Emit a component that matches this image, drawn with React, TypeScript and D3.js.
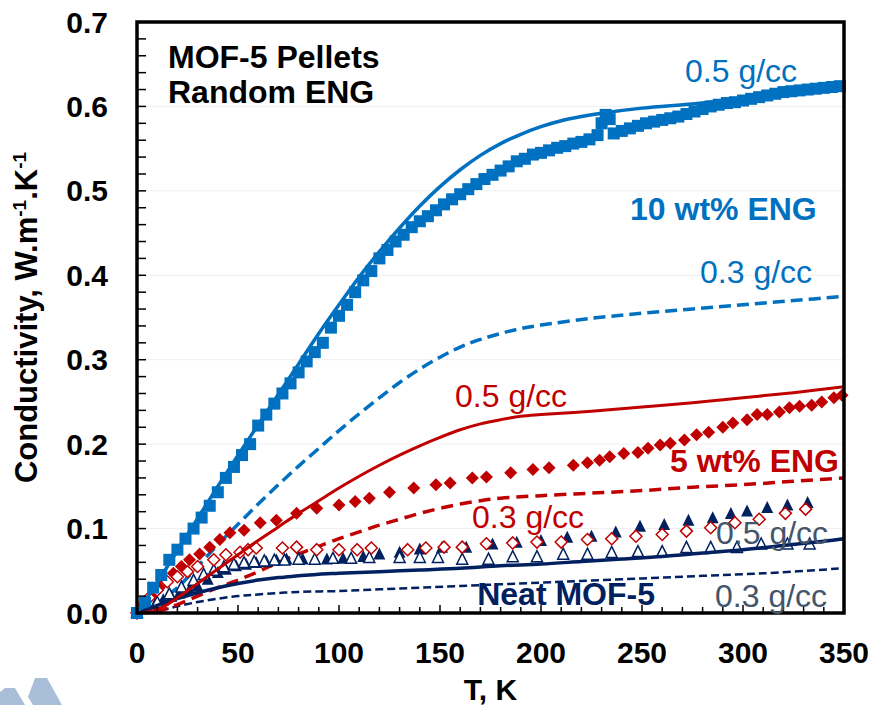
import React from "react";
import * as d3 from "d3";

// ---------- data ----------
// 10 wt% ENG, 0.5 g/cc measured (squares)
const sqT = [0,4,8,12,16,20,24,28,32,36,40,44,48,52,56,60,64,68,72,76,80,84,88,92,96,100,104,108,112,116,120,124,128,132,136,140,144,148,152,156,160,164,168,172,176,180,184,188,192,196,200,204,208,212,216,220,224,228,230,232,234,236,240,244,248,252,256,260,264,268,272,276,280,284,288,292,296,300,304,308,312,316,320,324,328,332,336,340,344,348];
const sqV = [0,0.012,0.03,0.045,0.063,0.075,0.088,0.1,0.113,0.127,0.143,0.16,0.173,0.187,0.2,0.222,0.235,0.248,0.26,0.272,0.285,0.298,0.309,0.32,0.338,0.352,0.365,0.38,0.394,0.405,0.42,0.43,0.44,0.448,0.457,0.464,0.47,0.477,0.484,0.49,0.496,0.502,0.508,0.514,0.519,0.524,0.529,0.535,0.538,0.543,0.545,0.548,0.551,0.553,0.556,0.558,0.561,0.566,0.58,0.59,0.585,0.568,0.571,0.574,0.577,0.58,0.582,0.584,0.586,0.588,0.591,0.594,0.597,0.6,0.602,0.604,0.605,0.607,0.609,0.611,0.613,0.615,0.617,0.618,0.619,0.62,0.621,0.622,0.623,0.624];

// 5 wt% ENG measured (filled diamonds)
const fdT = [0,3,7,11,14,18,22,26,31,36,41,46,53,61,69,79,89,100,108,115,125,137,148,155,166,173,185,196,204,216,223,229,234,241,248,253,259,264,271,277,283,290,295,302,307,312,318,323,328,334,339,345,349];
const fdV = [0,0.01,0.02,0.03,0.038,0.047,0.055,0.063,0.07,0.078,0.087,0.095,0.098,0.107,0.11,0.118,0.124,0.128,0.132,0.136,0.143,0.148,0.152,0.154,0.16,0.161,0.166,0.17,0.172,0.175,0.178,0.181,0.185,0.189,0.19,0.195,0.199,0.201,0.205,0.211,0.214,0.22,0.225,0.229,0.235,0.235,0.238,0.243,0.245,0.246,0.25,0.255,0.258];

// 5 wt% ENG measured (open diamonds)
const odT = [0,6,10,15,20,25,30,38,44,51,55,59,72,79,89,100,109,116,134,143,152,161,173,186,198,210,223,235,247,260,272,284,296,308,321,331];
const odV = [0,0.018,0.027,0.037,0.043,0.049,0.055,0.063,0.069,0.072,0.075,0.077,0.077,0.078,0.075,0.075,0.075,0.077,0.075,0.077,0.078,0.078,0.082,0.083,0.084,0.084,0.087,0.088,0.091,0.093,0.097,0.101,0.107,0.111,0.118,0.123];

// Neat MOF-5 measured (filled triangles)
const ftT = [0,5,9,13,17,21,26,30,35,40,44,49,54,59,64,69,74,82,94,102,112,120,130,140,151,163,176,188,200,213,225,237,249,261,273,285,294,302,312,322,332];
const ftV = [0,0.006,0.01,0.015,0.019,0.023,0.027,0.031,0.039,0.047,0.051,0.055,0.057,0.059,0.06,0.062,0.063,0.063,0.063,0.064,0.066,0.069,0.071,0.075,0.077,0.077,0.081,0.083,0.085,0.089,0.09,0.095,0.102,0.104,0.109,0.112,0.117,0.12,0.124,0.127,0.13];

// Neat MOF-5 measured (open triangles)
const otT = [0,5,10,16,22,28,33,38,43,48,53,58,63,68,73,80,88,97,106,115,130,140,149,161,174,186,198,211,223,235,248,260,272,284,297,309,322,333];
const otV = [0,0.005,0.012,0.022,0.03,0.038,0.045,0.05,0.054,0.057,0.059,0.06,0.061,0.062,0.062,0.063,0.063,0.064,0.064,0.065,0.065,0.065,0.065,0.063,0.063,0.066,0.066,0.069,0.069,0.071,0.072,0.072,0.077,0.077,0.077,0.081,0.081,0.081];

// model curves
const mBlue5T = [0,10,20,30,40,50,60,70,80,90,100,110,120,130,140,150,160,170,180,190,200,210,220,230,250,275,300,325,350];
const mBlue5V = [0,0.036,0.074,0.112,0.15,0.187,0.223,0.259,0.295,0.331,0.365,0.398,0.428,0.456,0.482,0.505,0.525,0.542,0.556,0.567,0.576,0.583,0.588,0.592,0.598,0.603,0.609,0.616,0.625];
const mBlue3T = [0,10,20,30,40,50,60,70,80,90,100,110,120,130,140,150,160,170,180,190,200,225,250,275,300,325,350];
const mBlue3V = [0,0.012,0.03,0.055,0.081,0.105,0.129,0.152,0.174,0.195,0.216,0.236,0.255,0.273,0.289,0.303,0.315,0.324,0.331,0.337,0.341,0.349,0.355,0.36,0.365,0.37,0.375];
const mRed5T = [0,10,20,30,40,50,60,70,80,90,100,110,120,130,140,150,160,170,180,190,200,225,250,275,300,325,350];
const mRed5V = [0,0.004,0.018,0.035,0.052,0.069,0.086,0.102,0.118,0.133,0.148,0.162,0.175,0.187,0.198,0.208,0.217,0.224,0.229,0.233,0.235,0.239,0.244,0.249,0.255,0.261,0.268];
const mRed3T = [0,10,20,30,40,50,60,70,80,90,100,110,120,130,140,150,160,170,180,200,225,250,275,300,325,350];
const mRed3V = [0,0.002,0.01,0.02,0.03,0.039,0.049,0.06,0.07,0.079,0.088,0.096,0.104,0.111,0.118,0.124,0.129,0.133,0.136,0.139,0.142,0.145,0.149,0.152,0.156,0.16];
const mNeat5T = [0,5,10,20,30,40,50,60,70,80,90,100,120,140,160,180,200,220,240,260,280,300,320,340,350];
const mNeat5V = [0,0.004,0.009,0.017,0.024,0.03,0.035,0.039,0.042,0.044,0.046,0.047,0.049,0.051,0.053,0.056,0.058,0.061,0.064,0.067,0.071,0.075,0.08,0.085,0.088];
const mNeat3T = [0,10,20,30,40,50,60,80,100,120,140,160,180,200,220,250,280,310,350];
const mNeat3V = [0,0.002,0.008,0.013,0.017,0.02,0.022,0.025,0.026,0.028,0.03,0.032,0.034,0.036,0.038,0.041,0.044,0.047,0.053];

const xTicks = [0, 50, 100, 150, 200, 250, 300, 350];
const yTicks = [0, 0.1, 0.2, 0.3, 0.4, 0.5, 0.6, 0.7];

const BLUE = "#0070C0";
const RED = "#C00000";
const NAVY = "#002060";
const SLATE = "#44546A";
const FONT = "'Liberation Sans', Arial, sans-serif";

const zip = (t: number[], v: number[]) => t.map((d, i) => [d, v[i]] as [number, number]);

export default function App() {
  const W = 873, H = 705;
  const x = d3.scaleLinear().domain([0, 350]).range([137, 844]);
  const y = d3.scaleLinear().domain([0, 0.7]).range([613, 22]);
  const line = d3.line<[number, number]>().x(d => x(d[0])).y(d => y(d[1])).curve(d3.curveCatmullRom.alpha(0.5));

  const minorY = d3.range(0, 0.7001, 0.02);
  const minorX = d3.range(0, 351, 10);

  const diamond = (cx: number, cy: number, r: number) => `M${cx},${cy - r}L${cx + r},${cy}L${cx},${cy + r}L${cx - r},${cy}Z`;
  const tri = (cx: number, cy: number, s: number) => `M${cx},${cy - s * 0.6}L${cx + s / 2},${cy + s * 0.4}L${cx - s / 2},${cy + s * 0.4}Z`;

  return (
    <svg width={W} height={H} style={{ position: "absolute", left: 0, top: 0, background: "#fff" }} fontFamily={FONT}>
      <rect x={0} y={0} width={W} height={H} fill="#fff" />
      {/* logo fragment */}
      <polygon points="0,692 5,688 15,688 25,705 0,705" fill="#A9BFD9" />
      <polygon points="28,697 35,678 47,678 62,705 33,705" fill="#A9BFD9" />

      {/* gridlines */}
      {yTicks.slice(1, -1).map(t => (
        <line key={"g" + t} x1={x(0)} x2={x(350)} y1={y(t)} y2={y(t)} stroke="#EFEFEF" strokeWidth={1} />
      ))}

      {/* model lines */}
      <path d={line(zip(mNeat3T, mNeat3V))!} fill="none" stroke={NAVY} strokeWidth={2.5} strokeDasharray="8,4" />
      <path d={line(zip(mRed3T, mRed3V))!} fill="none" stroke={RED} strokeWidth={3.5} strokeDasharray="12,7" />
      <path d={line(zip(mBlue3T, mBlue3V))!} fill="none" stroke={BLUE} strokeWidth={3.5} strokeDasharray="12,6" />

      {/* markers */}
      {zip(ftT, ftV).map((d, i) => (
        <path key={"ft" + i} d={tri(x(d[0]), y(d[1]), 12)} fill={NAVY} />
      ))}
      {zip(otT, otV).map((d, i) => (
        <path key={"ot" + i} d={tri(x(d[0]), y(d[1]), 11)} fill="#fff" stroke={NAVY} strokeWidth={1.5} />
      ))}
      {zip(fdT, fdV).map((d, i) => (
        <path key={"fd" + i} d={diamond(x(d[0]), y(d[1]), 6.5)} fill={RED} />
      ))}
      {zip(odT, odV).map((d, i) => (
        <path key={"od" + i} d={diamond(x(d[0]), y(d[1]), 6)} fill="#fff" stroke={RED} strokeWidth={1.5} />
      ))}
      {zip(sqT, sqV).map((d, i) => (
        <rect key={"sq" + i} x={x(d[0]) - 6} y={y(d[1]) - 6} width={12} height={12} fill={BLUE} />
      ))}

      <path d={line(zip(mNeat5T, mNeat5V))!} fill="none" stroke={NAVY} strokeWidth={3.5} />
      <path d={line(zip(mRed5T, mRed5V))!} fill="none" stroke={RED} strokeWidth={3} />
      <path d={line(zip(mBlue5T, mBlue5V))!} fill="none" stroke={BLUE} strokeWidth={3.5} />

      {/* ticks */}
      {minorY.map((t, i) => (
        <line key={"yt" + i} x1={x(0)} x2={x(0) + 9} y1={y(t)} y2={y(t)} stroke="#000" strokeWidth={1.5} />
      ))}
      {minorX.map((t, i) => (
        <line key={"xt" + i} x1={x(t)} x2={x(t)} y1={y(0)} y2={y(0) - (t % 50 === 0 ? 8 : 6)} stroke="#000" strokeWidth={1.5} />
      ))}

      {/* frame */}
      <rect x={x(0)} y={y(0.7)} width={x(350) - x(0)} height={y(0) - y(0.7)} fill="none" stroke="#000" strokeWidth={3.5} />

      {/* tick labels */}
      {yTicks.map(t => (
        <text key={"yl" + t} x={108} y={y(t) + 10.5} textAnchor="end" fontSize={30} fontWeight="bold" fill="#000">
          {t.toFixed(1)}
        </text>
      ))}
      {xTicks.map(t => (
        <text key={"xl" + t} x={x(t)} y={663} textAnchor="middle" fontSize={30} fontWeight="bold" fill="#000">
          {t}
        </text>
      ))}

      {/* axis titles */}
      <text x={(x(0) + x(350)) / 2} y={700} textAnchor="middle" fontSize={30} fontWeight="bold">T, K</text>
      <text transform={`translate(37,${(y(0) + y(0.7)) / 2}) rotate(-90)`} textAnchor="middle" fontSize={31} fontWeight="bold">
        Conductivity, W.m<tspan dy={-11} fontSize={19}>-1</tspan><tspan dy={11}>.K</tspan><tspan dy={-11} fontSize={19}>-1</tspan>
      </text>

      {/* annotations */}
      <text x={168} y={68} fontSize={32} fontWeight="bold">MOF-5 Pellets</text>
      <text x={168} y={103} fontSize={32} fontWeight="bold">Random ENG</text>

      <text x={685} y={82} fontSize={32} fill={BLUE}>0.5 g/cc</text>
      <text x={630} y={220} fontSize={32} fontWeight="bold" fill={BLUE}>10 wt% ENG</text>
      <text x={700} y={283} fontSize={32} fill={BLUE}>0.3 g/cc</text>

      <text x={455} y={407} fontSize={32} fill={RED}>0.5 g/cc</text>
      <text x={839} y={472} textAnchor="end" fontSize={32} fontWeight="bold" fill={RED}>5 wt% ENG</text>
      <text x={472} y={528} fontSize={32} fill={RED}>0.3 g/cc</text>

      <text x={716} y={544} fontSize={32} fill={SLATE}>0.5 g/cc</text>
      <text x={715} y={607} fontSize={32} fill={SLATE}>0.3 g/cc</text>
      <text x={655} y={605} textAnchor="end" fontSize={32} fontWeight="bold" fill={NAVY}>Neat MOF-5</text>
    </svg>
  );
}
